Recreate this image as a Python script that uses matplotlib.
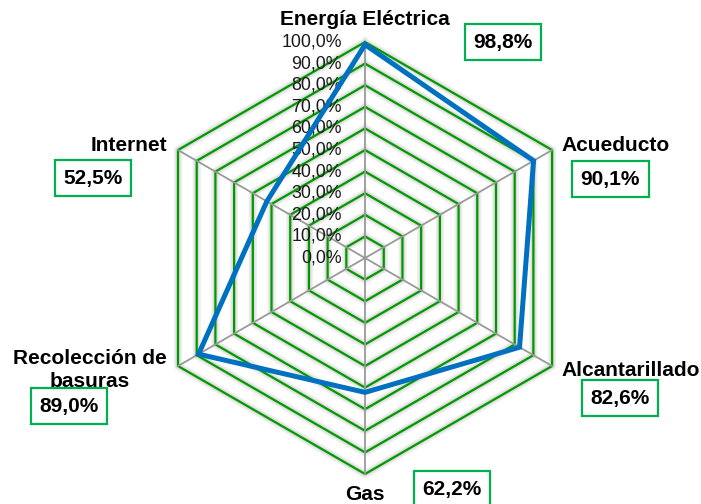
import numpy as np
import matplotlib
matplotlib.use("Agg")
import matplotlib.pyplot as plt
import matplotlib.patheffects as pe

plt.rcParams['font.family'] = ['Liberation Sans', 'DejaVu Sans']

categories = ["Energía Eléctrica", "Acueducto", "Alcantarillado", "Gas",
              "Recolección de\nbasuras", "Internet"]
values = [98.8, 90.1, 82.6, 62.2, 89.0, 52.5]
value_labels = ["98,8%", "90,1%", "82,6%", "62,2%", "89,0%", "52,5%"]
rings = [10, 20, 30, 40, 50, 60, 70, 80, 90, 100]
ring_labels = ["0,0%", "10,0%", "20,0%", "30,0%", "40,0%", "50,0%",
               "60,0%", "70,0%", "80,0%", "90,0%", "100,0%"]

# label placement (pixel offsets from the outer vertex)
cat_offsets = [(0, 23), (9, 5), (9, -4), (0, -20), (-11, -4), (-11, 5)]
cat_ha = ["center", "left", "left", "center", "right", "right"]
box_offsets = [(138, 0), (58, -29), (68, -32), (87, -15), (-109, -40), (-85, -28)]

green = "#009A00"
box_green = "#00B050"
blue = "#0070C0"

n = len(categories)
angles = np.linspace(0, 2 * np.pi, n, endpoint=False)
closed = np.append(angles, angles[0])

fig = plt.figure(figsize=(7.01, 5.04), dpi=100)
ax = fig.add_axes([0.2126, 0.0595, 0.6163, 0.8571], projection="polar")
ax.set_theta_offset(np.pi / 2)
ax.set_theta_direction(-1)
ax.set_ylim(0, 100)
ax.set_xticks([])
ax.set_yticks([])
ax.grid(False)
ax.spines["polar"].set_visible(False)

shadow = [pe.Stroke(linewidth=6, foreground="#efefef"),
          pe.Stroke(linewidth=3.5, foreground="#dcdcdc"), pe.Normal()]

for r in rings:
    ax.plot(closed, [r] * (n + 1), color=green, lw=1.6, clip_on=False,
            path_effects=shadow, zorder=2)

for t in angles:
    ax.plot([t, t], [0, 100], color="#999999", lw=1.3, clip_on=False, zorder=3)

ax.plot(closed, np.append(values, values[0]), color=blue, lw=3.6,
        clip_on=False, zorder=5, solid_joinstyle="miter")

for i, lab in enumerate(ring_labels):
    ax.annotate(lab, xy=(0, i * 10), xytext=(-23, 0), textcoords="offset pixels",
                ha="right", va="center", fontsize=12.8, color="#1a1a1a",
                annotation_clip=False, zorder=4)

for t, lab, off, ha in zip(angles, categories, cat_offsets, cat_ha):
    ax.annotate(lab, xy=(t, 100), xytext=off, textcoords="offset pixels",
                ha=ha, va="center", multialignment="center", fontsize=15,
                fontweight="bold", annotation_clip=False, linespacing=1.25)

for t, lab, off in zip(angles, value_labels, box_offsets):
    ax.annotate(lab, xy=(t, 100), xytext=off, textcoords="offset pixels",
                ha="center", va="center", fontsize=15, fontweight="bold",
                annotation_clip=False, zorder=6,
                bbox=dict(boxstyle="square,pad=0.42", fc="white",
                          ec=box_green, lw=1.6))

fig.savefig("out.png", dpi=100)
